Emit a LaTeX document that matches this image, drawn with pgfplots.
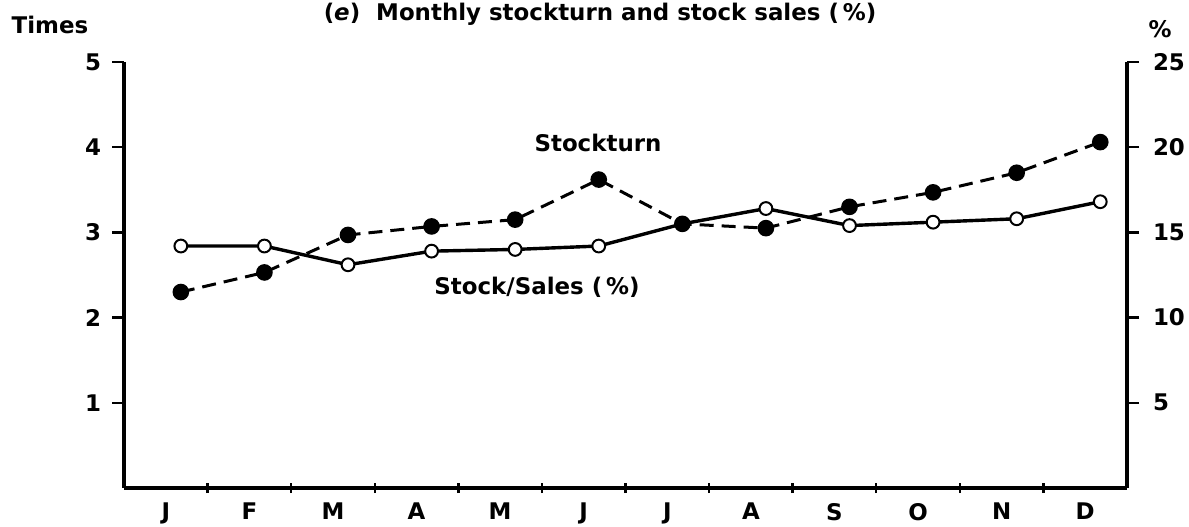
\documentclass[border=0pt]{standalone}
\usepackage{fontspec}
\setmainfont{DejaVu Sans}
\usepackage{pgfplots}
\pgfplotsset{compat=1.18}
\newcommand{\lbl}{\bfseries\fontsize{11.5}{13}\selectfont}
\begin{document}
\begin{tikzpicture}
\useasboundingbox (-62bp,-19.5bp) rectangle (532.5bp,244bp);
\begin{axis}[
  scale only axis, width=501.5bp, height=213bp,
  xmin=-0.5, xmax=11.5, ymin=0, ymax=25,
  axis x line=none, axis y line*=right,
  axis line style={line width=1.6bp, -, black},
  ytick={5,10,15,20,25},
  ytick align=outside,
  major tick length=6bp,
  y tick style={line width=1.2bp, black},
  tick label style={font=\lbl},
  yticklabel style={xshift=3.5bp},
  /pgf/number format/assume math mode=true,
  clip=false,
]
\addplot[black, line width=1.7bp,
  mark=*, mark size=3.2bp, mark options={fill=white, line width=1bp}]
  coordinates {
  (0.18,14.2) (1.18,14.2) (2.18,13.1) (3.18,13.9) (4.18,14.0) (5.18,14.2)
  (6.18,15.5) (7.18,16.4) (8.18,15.4) (9.18,15.6) (10.18,15.8) (11.18,16.8)
  };
\end{axis}
\begin{axis}[
  scale only axis, width=501.5bp, height=213bp,
  xmin=-0.5, xmax=11.5, ymin=0, ymax=5,
  axis x line*=bottom, axis y line*=left,
  axis line style={line width=1.6bp, -, black},
  xtick={0,...,11},
  xticklabels={J,F,M,A,M,J,J,A,S,O,N,D},
  minor xtick={0.5,1.5,...,10.5},
  major x tick style={draw=none},
  minor x tick style={line width=1.2bp, black},
  minor tick length=5bp,
  xtick align=center,
  ytick={1,2,3,4,5},
  ytick align=outside,
  major tick length=6bp,
  y tick style={line width=1.2bp, black},
  tick label style={font=\lbl},
  yticklabel style={xshift=-2bp},
  /pgf/number format/assume math mode=true,
  xticklabel style={yshift=-1bp},
  clip=false,
]
\addplot[black, line width=1.5bp, dash pattern=on 7bp off 4bp,
  mark=*, mark size=3.4bp, mark options={solid, fill=black}]
  coordinates {
  (0.18,2.30) (1.18,2.53) (2.18,2.97) (3.18,3.07) (4.18,3.15) (5.18,3.62)
  (6.18,3.10) (7.18,3.05) (8.18,3.30) (9.18,3.47) (10.18,3.70) (11.18,4.06)
  };
\end{axis}
\node[font=\lbl] at (238bp,237bp) {(\textit{e})\ \ Monthly stockturn and stock sales (\,\%)};
\node[font=\lbl] at (-37bp,231.5bp) {Times};
\node[font=\lbl] at (518bp,229.5bp) {\%};
\node[font=\lbl] at (237bp,172.5bp) {Stockturn};
\node[font=\lbl] at (206.5bp,100.5bp) {Stock/Sales (\,\%)};
\end{tikzpicture}
\end{document}
